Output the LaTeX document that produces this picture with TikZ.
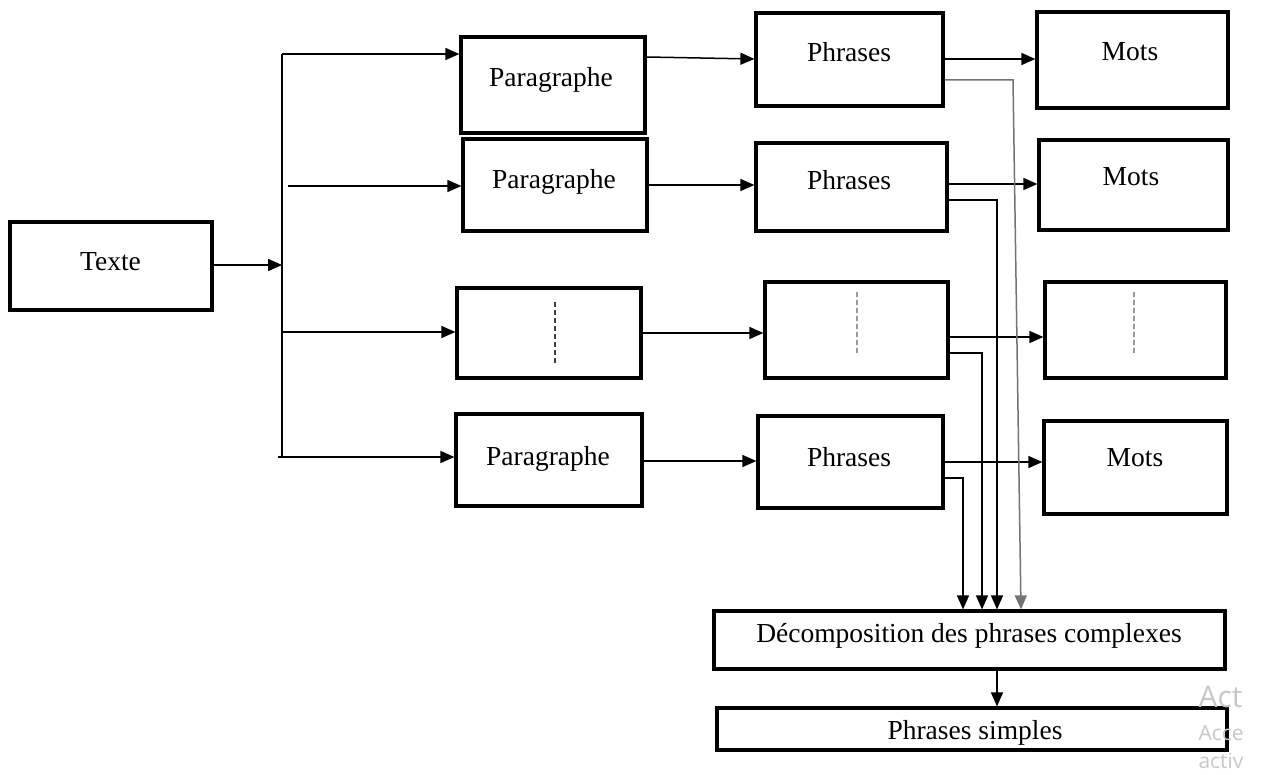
\documentclass[tikz,border=0pt]{standalone}
\usepackage{fontspec}
\setmainfont{Liberation Serif}
\newfontfamily\wmfont{Open Sans}
\usepackage{tikz}
\usetikzlibrary{arrows.meta}
\usetikzlibrary{calc}

\tikzset{
  box/.style={draw,line width=3.2pt,inner sep=0pt},
  lbl/.style={anchor=base,font=\fontsize{27.5}{31}\selectfont},
  flow/.style={-{Triangle[length=14pt,width=12pt]},line width=1.5pt},
  vdots/.style={dash pattern=on 5pt off 3pt,line width=2pt,color=black!75},
  wm/.style={anchor=base west,color=black!22,font=\wmfont}
}

\begin{document}
\begin{tikzpicture}[x=1pt,y=-1pt,line cap=butt,line join=miter]
\useasboundingbox (0,0) rectangle (1263,775);
\clip (0,0) rectangle (1263,775);

% boxes
\draw (111,266) node[box,minimum width=202pt,minimum height=88pt](texte){};
\draw (553,85) node[box,minimum width=184pt,minimum height=96pt](para1){};
\draw (555,185) node[box,minimum width=184pt,minimum height=92pt](para2){};
\draw (549,333) node[box,minimum width=184pt,minimum height=90pt](para3){};
\draw (549,460) node[box,minimum width=186pt,minimum height=92pt](para4){};
\draw (849.5,59.5) node[box,minimum width=187pt,minimum height=93pt](phr1){};
\draw (851.5,187) node[box,minimum width=191pt,minimum height=88pt](phr2){};
\draw (856.5,330) node[box,minimum width=183pt,minimum height=96pt](phr3){};
\draw (850.5,462) node[box,minimum width=185pt,minimum height=92pt](phr4){};
\draw (1132.5,60) node[box,minimum width=191pt,minimum height=96pt](mots1){};
\draw (1133.5,185) node[box,minimum width=189pt,minimum height=90pt](mots2){};
\draw (1135.5,330) node[box,minimum width=181pt,minimum height=96pt](mots3){};
\draw (1135.5,467.5) node[box,minimum width=183pt,minimum height=93pt](mots4){};
\draw (969.5,640) node[box,minimum width=511pt,minimum height=58pt](decomp){};
\draw (972,729) node[box,minimum width=510pt,minimum height=42pt](simples){};

% labels
\draw (110.5,271) node[lbl](texteT){Texte};
\draw (551,87) node[lbl](para1T){Paragraphe};
\draw (554,189) node[lbl](para2T){Paragraphe};
\draw (548,465) node[lbl](para4T){Paragraphe};
\draw (849,62) node[lbl](phr1T){Phrases};
\draw (849,190) node[lbl](phr2T){Phrases};
\draw (849,466) node[lbl](phr4T){Phrases};
\draw (1130,61) node[lbl](mots1T){Mots};
\draw (1131,186) node[lbl](mots2T){Mots};
\draw (1135,466) node[lbl](mots4T){Mots};
\draw (969,642) node[lbl](decompT){Décomposition des phrases complexes};
\draw (975,739) node[lbl](simplesT){Phrases simples};

% dashed marks in the third row
\draw[vdots] (555,302) -- (555,365);
\draw[vdots,line width=1.2pt,color=black!40] (857,292) -- (857,355);
\draw[vdots,line width=1.2pt,color=black!40] (1134,292) -- (1134,355);

% trunk
\coordinate (tmid) at (282,265);
\coordinate (ttop) at (282,54);
\coordinate (tbot) at (282,457);
\coordinate (b2) at (288,186);
\coordinate (b3) at (282,332);
\coordinate (b4) at (278,457);
\draw[line width=1.5pt] (ttop) -- (tbot);
\draw[flow] ([yshift=1pt]texte.east) -- (tmid);

\draw[flow] (ttop) -- ([yshift=31pt]para1.west);
\draw[flow] (b2) -- ([yshift=-1pt]para2.west);
\draw[flow] (b3) -- ([yshift=1pt]para3.west);
\draw[flow] (b4) -- ([yshift=3pt]para4.west);

\draw[flow] ([yshift=28pt]para1.east) -- ([yshift=0.5pt]phr1.west);
\draw[flow] (para2.east) -- ([yshift=2pt]phr2.west);
\draw[flow] (para3.east) -- ([yshift=-3pt]phr3.west);
\draw[flow] ([yshift=-1pt]para4.east) -- ([yshift=1pt]phr4.west);

\draw[flow] ([yshift=0.5pt]phr1.east) -- ([yshift=1pt]mots1.west);
\draw[flow] ([yshift=3pt]phr2.east) -- ([yshift=1pt]mots2.west);
\draw[flow] ([yshift=-7pt]phr3.east) -- ([yshift=-7pt]mots3.west);
\draw[flow] (phr4.east) -- ([yshift=5.5pt]mots4.west);

% towards the decomposition
\coordinate (k1) at (1013,80);
\draw[flow,color=black!55] ([yshift=-20.5pt]phr1.east) -- (k1) -- ([xshift=51.5pt]decomp.north);
\draw[flow] ([yshift=-13pt]phr2.east) -| ([xshift=27.5pt]decomp.north);
\draw[flow] ([yshift=-23pt]phr3.east) -| ([xshift=12.5pt]decomp.north);
\draw[flow] ([yshift=-16pt]phr4.east) -| ([xshift=-6.5pt]decomp.north);

\draw[flow] ([xshift=27.5pt]decomp.south) -- ([xshift=25pt]simples.north);

% watermark
\draw (1195,707) node[wm,font=\wmfont\fontsize{30}{34}\selectfont](wm1){Act};
\draw (1195,740) node[wm,font=\wmfont\fontsize{21}{24}\selectfont](wm2){Acce};
\draw (1195,768) node[wm,font=\wmfont\fontsize{21}{24}\selectfont](wm3){activ};
\end{tikzpicture}
\end{document}
